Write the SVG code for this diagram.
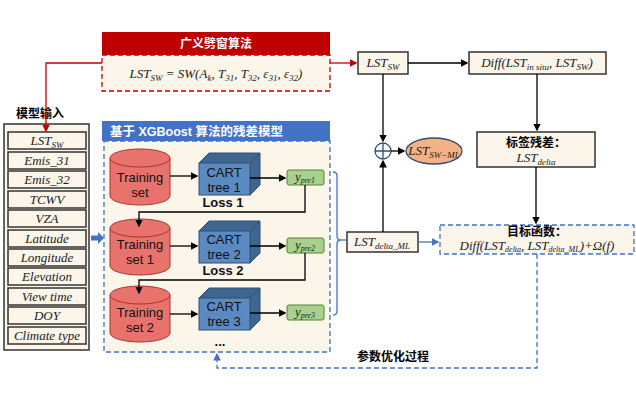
<svg xmlns="http://www.w3.org/2000/svg" width="636" height="407" viewBox="0 0 636 407">
<defs>
<marker id="ab" markerWidth="6" markerHeight="6" refX="5" refY="3" orient="auto"><path d="M0,0L6,3L0,6z" fill="#000"/></marker>
<marker id="ar" markerWidth="6" markerHeight="6" refX="5" refY="3" orient="auto"><path d="M0,0L6,3L0,6z" fill="#c00000"/></marker>
<marker id="au" markerWidth="6" markerHeight="6" refX="5" refY="3" orient="auto"><path d="M0,0L6,3L0,6z" fill="#4472c4"/></marker>
<g id="cyl"><path d="M0,10 v38 a30,9 0 0 0 60,0 v-38" fill="#e8736c" stroke="#a33" stroke-width="1"/><ellipse cx="30" cy="10" rx="30" ry="9" fill="#e8736c" stroke="#a33"/></g>
<g id="cube"><path d="M0,10 l10,-10 h51 v32 l-10,10z" fill="#3f6690" stroke="#2f4f72"/><rect x="0" y="10" width="51" height="32" fill="#5b8ac0" stroke="#2f4f72"/><path d="M51,10 l10,-10" stroke="#2f4f72"/></g>
</defs>
<style>
.m{font-family:"Liberation Serif",serif;font-style:italic;font-size:13px;text-anchor:middle;fill:#222}
.s{font-family:"Liberation Sans",Arial,sans-serif;font-size:13px;text-anchor:middle;fill:#111}
.c{font-family:"Liberation Sans","Noto Sans CJK SC",sans-serif;font-weight:bold;font-size:12px;text-anchor:middle}
.cell{fill:#fbf5ea;stroke:#333;stroke-width:1.5}
.box{fill:#fbf5ea;stroke:#333;stroke-width:1.5}
.k{stroke:#000;stroke-width:1.3;fill:none}
</style>
<rect width="636" height="407" fill="#fff"/>
<g id="sw">
<rect x="102" y="32" width="228" height="23" fill="#c00000"/>
<text x="216" y="48" class="c" style="fill:#fff">广义劈窗算法</text>
<rect x="102" y="55" width="228" height="36" fill="#fbf5ea" stroke="#c00000" stroke-dasharray="5,3" stroke-width="1.3"/>
<text x="216" y="78" class="m">LST<tspan font-size="9" dy="3">SW</tspan><tspan dy="-3"> = SW(A</tspan><tspan font-size="9" dy="3">k</tspan><tspan dy="-3">, T</tspan><tspan font-size="9" dy="3">31</tspan><tspan dy="-3">, T</tspan><tspan font-size="9" dy="3">32</tspan><tspan dy="-3">, ε</tspan><tspan font-size="9" dy="3">31</tspan><tspan dy="-3">, ε</tspan><tspan font-size="9" dy="3">32</tspan><tspan dy="-3">)</tspan></text>
</g>
<g id="inputs">
<text x="40" y="118" class="c">模型输入</text>
<rect x="4" y="124" width="85" height="226" fill="#fbf5ea" stroke="#333" stroke-width="1.5"/>
<rect class="cell" x="8" y="132" width="78" height="17"/><text class="m" x="47" y="145">LST<tspan font-size="9" dy="3">SW</tspan></text>
<rect class="cell" x="8" y="152" width="78" height="17"/><text class="m" x="47" y="165">Emis_31</text>
<rect class="cell" x="8" y="171" width="78" height="17"/><text class="m" x="47" y="184">Emis_32</text>
<rect class="cell" x="8" y="191" width="78" height="17"/><text class="m" x="47" y="204">TCWV</text>
<rect class="cell" x="8" y="210" width="78" height="17"/><text class="m" x="47" y="223">VZA</text>
<rect class="cell" x="8" y="230" width="78" height="17"/><text class="m" x="47" y="243">Latitude</text>
<rect class="cell" x="8" y="249" width="78" height="17"/><text class="m" x="47" y="262">Longitude</text>
<rect class="cell" x="8" y="268" width="78" height="17"/><text class="m" x="47" y="281">Elevation</text>
<rect class="cell" x="8" y="288" width="78" height="17"/><text class="m" x="47" y="301">View time</text>
<rect class="cell" x="8" y="307" width="78" height="17"/><text class="m" x="47" y="320">DOY</text>
<rect class="cell" x="8" y="327" width="78" height="17"/><text class="m" x="47" y="340" font-size="12.5">Climate type</text>
</g>
<g id="xgb">
<rect x="102" y="121" width="228" height="20" fill="#4472c4"/>
<text x="110" y="136" class="c" style="fill:#fff;text-anchor:start;font-size:12.5px">基于 XGBoost 算法的残差模型</text>
<rect x="104" y="141" width="226" height="211" fill="#fbf5ea" stroke="#4472c4" stroke-dasharray="5,3" stroke-width="1.3"/>
<use href="#cyl" x="110" y="148"/><text class="s" x="140" y="182">Training</text><text class="s" x="140" y="197">set</text>
<use href="#cyl" x="110" y="218"/><text class="s" x="140" y="249">Training</text><text class="s" x="140" y="264">set 1</text>
<use href="#cyl" x="110" y="285"/><text class="s" x="140" y="317">Training</text><text class="s" x="140" y="332">set 2</text>
<use href="#cube" x="199" y="153"/><text class="s" x="224" y="177">CART</text><text class="s" x="224" y="192">tree 1</text>
<use href="#cube" x="199" y="221"/><text class="s" x="224" y="244">CART</text><text class="s" x="224" y="259">tree 2</text>
<use href="#cube" x="199" y="288"/><text class="s" x="224" y="311">CART</text><text class="s" x="224" y="326">tree 3</text>
<text class="s" x="223" y="207" font-weight="bold">Loss 1</text>
<text class="s" x="223" y="275" font-weight="bold">Loss 2</text>
<text class="s" x="220" y="346" font-weight="bold">...</text>
<rect x="287" y="170" width="37" height="15" fill="#a9d18e" stroke="#548235" rx="2"/><text class="m" x="305" y="181" font-size="12">y<tspan font-size="8" dy="2">pre1</tspan></text>
<rect x="287" y="238" width="37" height="15" fill="#a9d18e" stroke="#548235" rx="2"/><text class="m" x="305" y="249" font-size="12">y<tspan font-size="8" dy="2">pre2</tspan></text>
<rect x="287" y="305" width="37" height="15" fill="#a9d18e" stroke="#548235" rx="2"/><text class="m" x="305" y="316" font-size="12">y<tspan font-size="8" dy="2">pre3</tspan></text>
</g>
<g id="right">
<rect class="box" x="358" y="52" width="50" height="22"/><text class="m" x="383" y="67">LST<tspan font-size="9" dy="3">SW</tspan></text>
<rect class="box" x="469" y="52" width="137" height="22"/><text class="m" x="537" y="67">Diff(LST<tspan font-size="9" dy="3">in situ</tspan><tspan dy="-3">, LST</tspan><tspan font-size="9" dy="3">SW</tspan><tspan dy="-3">)</tspan></text>
<circle cx="383" cy="151" r="8" fill="#fff" stroke="#2f4f72" stroke-width="1.3"/><path d="M375,151h16M383,143v16" stroke="#2f4f72" stroke-width="1.3"/>
<ellipse cx="434" cy="151" rx="28" ry="13" fill="#f4b183" stroke="#2f4f72" stroke-width="1.3"/><text class="m" x="434" y="155">LST<tspan font-size="9" dy="3">SW−ML</tspan></text>
<rect class="box" x="477" y="132" width="118" height="35"/><text class="c" x="536" y="147">标签残差：</text><text class="m" x="536" y="162">LST<tspan font-size="9" dy="3">delta</tspan></text>
<rect class="box" x="347" y="232" width="71" height="20"/><text class="m" x="382" y="246">LST<tspan font-size="9" dy="3">delta_ML</tspan></text>
<rect x="440" y="225" width="194" height="29" fill="#fbf5ea" stroke="#4472c4" stroke-dasharray="5,3" stroke-width="1.3"/>
<text class="c" x="537" y="236" font-size="11">目标函数：</text>
<text class="m" x="537" y="250" font-size="11.5">Diff(LST<tspan font-size="8" dy="2">delta</tspan><tspan dy="-2">, LST</tspan><tspan font-size="8" dy="2">delta_ML</tspan><tspan dy="-2">)+Ω(f)</tspan></text>
<text class="c" x="393" y="361">参数优化过程</text>
</g>
<g id="connectors">
<path d="M102,63H46V131" stroke="#c00000" stroke-width="1.3" fill="none" marker-end="url(#ar)"/>
<path d="M330,63H356" stroke="#c00000" stroke-width="1.3" fill="none" marker-end="url(#ar)"/>
<path d="M91,238H101" stroke="#4472c4" stroke-width="5" fill="none"/><path d="M98,232L104,238L98,244z" fill="#4472c4"/>
<path class="k" d="M170,176H197" marker-end="url(#ab)"/>
<path class="k" d="M170,246H197" marker-end="url(#ab)"/>
<path class="k" d="M170,314H197" marker-end="url(#ab)"/>
<path class="k" d="M250,178H285" marker-end="url(#ab)"/>
<path class="k" d="M250,246H285" marker-end="url(#ab)"/>
<path class="k" d="M250,313H285" marker-end="url(#ab)"/>
<path class="k" d="M305,185V212H139V226" marker-end="url(#ab)"/>
<path class="k" d="M305,253V280H139V293" marker-end="url(#ab)"/>
<path d="M333,172q4,0 4,4V236q0,4 4,4q-4,0 -4,4V311q0,4 -4,4" stroke="#4472c4" stroke-width="1.3" fill="none"/>
<path d="M341,240H347" stroke="#4472c4" stroke-width="1.3"/>
<path class="k" d="M408,63H467" marker-end="url(#ab)"/>
<path class="k" d="M383,74V141" marker-end="url(#ab)"/>
<path class="k" d="M383,232V161" marker-end="url(#ab)"/>
<path class="k" d="M391,151H404" marker-end="url(#ab)"/>
<path class="k" d="M537,74V130" marker-end="url(#ab)"/>
<path class="k" d="M536,167V223" marker-end="url(#ab)"/>
<path d="M418,242H438" stroke="#4472c4" stroke-width="1.3" fill="none" marker-end="url(#au)"/>
<path d="M537,254V368H217V354" stroke="#4472c4" stroke-width="1.3" stroke-dasharray="5,3" fill="none" marker-end="url(#au)"/>
</g>
</svg>
